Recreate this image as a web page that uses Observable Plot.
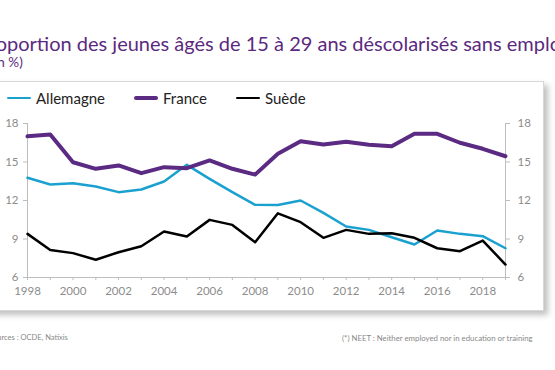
<!DOCTYPE html>
<html><head><meta charset="utf-8">
<script src="https://cdn.jsdelivr.net/npm/d3@7"></script>
<script src="https://cdn.jsdelivr.net/npm/@observablehq/plot@0.6"></script>
<style>
html,body{margin:0;padding:0;width:555px;height:370px;overflow:hidden;background:#fff;font-family:Lato,"Open Sans",sans-serif;}
#title{position:absolute;left:-23px;top:31px;white-space:nowrap;font-size:20px;color:#5b2a7e;}
#sub{position:absolute;left:-13px;top:54px;white-space:nowrap;font-size:13.5px;color:#5b2a7e;}
#box{position:absolute;left:-10px;top:81px;width:552px;height:228px;background:#fff;border:1px solid #d8d8d8;box-shadow:4px 4px 6px rgba(0,0,0,0.25);}
#legend{position:absolute;left:7px;top:89px;font-size:15px;line-height:18px;color:#222;display:flex;align-items:center;}
#legend span.sw{display:inline-block;width:24px;margin-right:5px;border-radius:2px;}
#legend .it{display:flex;align-items:center;margin-right:29px;}
#chart{position:absolute;left:0;top:110px;}
#foot1{position:absolute;left:-11px;top:333px;font-size:7.5px;color:#888;white-space:nowrap;}
#foot2{position:absolute;left:342px;top:333px;font-size:7.8px;color:#888;white-space:nowrap;}
</style></head>
<body>
<div id="title">Proportion des jeunes âgés de 15 à 29 ans déscolarisés sans emploi</div>
<div id="sub">(en %)</div>
<div id="box"></div>
<div id="legend"></div>
<div id="chart"></div>
<div id="foot1">Sources : OCDE, Natixis</div>
<div id="foot2">(*) NEET : Neither employed nor in education or training</div>
<script>
const years = [1998,1999,2000,2001,2002,2003,2004,2005,2006,2007,2008,2009,2010,2011,2012,2013,2014,2015,2016,2017,2018,2019];
const allemagne = [13.77,13.25,13.35,13.09,12.65,12.86,13.48,14.78,13.69,12.65,11.66,11.65,12.0,11.04,9.97,9.71,9.14,8.57,9.66,9.4,9.22,8.28];
const france = [17.0,17.15,14.98,14.47,14.73,14.13,14.6,14.52,15.12,14.47,14.02,15.64,16.62,16.36,16.57,16.34,16.23,17.2,17.2,16.5,16.03,15.45];
const suede = [9.4,8.15,7.9,7.38,7.97,8.44,9.58,9.19,10.49,10.1,8.75,11.0,10.31,9.09,9.71,9.4,9.45,9.09,8.28,8.05,8.88,7.01];
const seriesNames = ["Allemagne","France","Suède"];
const colors = ["#1ba1cf","#5b2a82","#000000"];
const widths = [2.5,4,2.5];
const yTicks = [6,9,12,15,18];
const xLabels = [1998,2000,2002,2004,2006,2008,2010,2012,2014,2016,2018];

const valuesBy = [allemagne, france, suede];
const data = [];
seriesNames.forEach((s,i)=>years.forEach((y,j)=>data.push({year:y,value:valuesBy[i][j],series:s})));

const leg = document.getElementById("legend");
seriesNames.forEach((s,i)=>{
  const it=document.createElement("div");it.className="it";
  it.innerHTML=`<span class="sw" style="height:${widths[i]}px;background:${colors[i]}"></span>${s}`;
  leg.appendChild(it);
});

const axisColor = "#8c8c8c";
const plot = Plot.plot({
  width:555, height:190,
  marginLeft:27, marginRight:50, marginTop:13, marginBottom:23,
  style:{fontFamily:"Lato, 'Open Sans', sans-serif", fontSize:"11.5px", color:axisColor, background:"transparent"},
  x:{domain:[1998,2019]},
  y:{domain:[6,18]},
  marks:[
    Plot.ruleX([1998],{stroke:"#bdbdbd"}),
    Plot.ruleX([2019],{stroke:"#bdbdbd"}),
    Plot.ruleY([6],{stroke:"#bdbdbd"}),
    Plot.axisY({anchor:"left", ticks:yTicks, tickSize:4, tickPadding:5, stroke:"#bdbdbd", label:null}),
    Plot.axisY({anchor:"right", ticks:yTicks, tickSize:4, tickPadding:8, stroke:"#bdbdbd", label:null}),
    Plot.axisX({ticks:years, tickSize:3, tickFormat:()=> "", stroke:"#bdbdbd", label:null}),
    Plot.axisX({ticks:xLabels, tickSize:0, tickPadding:9, tickFormat:d=>String(d), label:null}),
    ...seriesNames.map((s,i)=>Plot.line(data.filter(d=>d.series===s),{x:"year",y:"value",stroke:colors[i],strokeWidth:widths[i],strokeLinejoin:"round"}))
  ]
});
document.getElementById("chart").appendChild(plot);
</script>
</body></html>
